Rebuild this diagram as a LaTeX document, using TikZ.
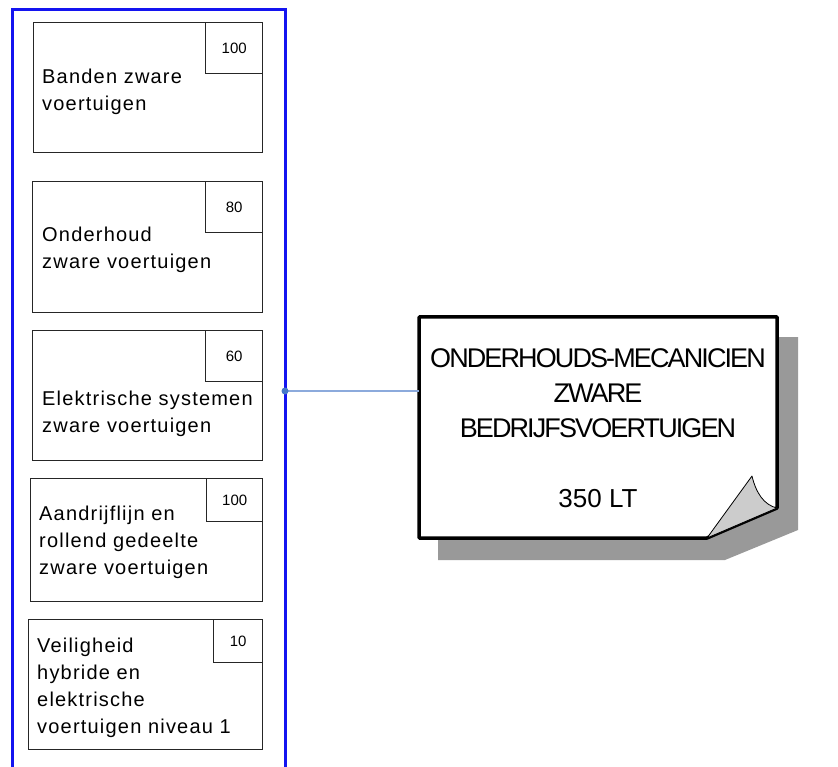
\documentclass[tikz,border=0pt]{standalone}
\usepackage{fontspec}
\setmainfont{Liberation Sans}
\newfontfamily\boxfont[LetterSpace=6]{Liberation Sans}
\newfontfamily\notefont[LetterSpace=-7]{Liberation Sans}
\usetikzlibrary{positioning}
\definecolor{framec}{RGB}{20,20,240}
\definecolor{linkc}{RGB}{140,170,220}
\definecolor{dotc}{RGB}{70,120,200}
\definecolor{shadowc}{RGB}{153,153,153}
\definecolor{flapc}{RGB}{204,204,204}

\begin{document}
\begin{tikzpicture}[x=1pt, y=-1pt,
        unit/.style={draw=black!85, line width=1.2pt, anchor=north west, inner sep=0pt, minimum height=130},
        num/.style={draw=black!85, line width=1pt, anchor=north east, inner sep=0pt, font=\fontsize{15}{18}\selectfont},
        txt/.style={text width=224pt, align=left, inner sep=0pt, anchor=base west, font=\boxfont\fontsize{20}{27}\selectfont}]
        \useasboundingbox (0,0) rectangle (838,767);

        %course boxes
        \node[unit, minimum width=229] (banden) at (33,22) {};
        \node[unit, minimum width=230, minimum height=131] (onderhoud) at (32,181) {};
        \node[unit, minimum width=230] (elektrisch) at (32,330) {};
        \node[unit, minimum width=232, minimum height=123] (aandrijf) at (30,478) {};
        \node[unit, minimum width=234] (veiligheid) at (28,619) {};

        %hours
        \node[num, minimum width=57, minimum height=51] (banden_n) at (banden.north east) {100};
        \node[num, minimum width=57, minimum height=51] (onderhoud_n) at (onderhoud.north east) {80};
        \node[num, minimum width=57, minimum height=51] (elektrisch_n) at (elektrisch.north east) {60};
        \node[num, minimum width=56, minimum height=43] (aandrijf_n) at (aandrijf.north east) {100};
        \node[num, minimum width=49, minimum height=43] (veiligheid_n) at (veiligheid.north east) {10};

        %titles
        \node[txt] (banden_t) at ([shift={(9,62)}]banden.north west) {Banden zware\\voertuigen};
        \node[txt] (onderhoud_t) at ([shift={(10,61)}]onderhoud.north west) {Onderhoud\\zware voertuigen};
        \node[txt] (elektrisch_t) at ([shift={(10,75)}]elektrisch.north west) {Elektrische systemen\\zware voertuigen};
        \node[txt] (aandrijf_t) at ([shift={(9,42)}]aandrijf.north west) {Aandrijflijn en\\rollend gedeelte\\zware voertuigen};
        \node[txt] (veiligheid_t) at ([shift={(9,33)}]veiligheid.north west) {Veiligheid\\hybride en\\elektrische\\voertuigen niveau 1};

        %blue frame round the boxes
        \draw[framec, line width=3pt] (12,800) -- (12,10) -- (285,10) -- (285,800);

        %note with shadow and folded corner
        \fill[shadowc] (438,337) -- (798,337) -- (798,530) -- (725,560) -- (438,560) -- cycle;
        \draw[line width=3.5pt, fill=white, line join=round] (419,317) -- (777,317) -- (777,508) -- (707,538) -- (419,538) -- cycle;
        \draw[fill=flapc, line width=0.8pt, line join=round] (707,538) -- (752,476) .. controls (756,493) and (764,505) .. (777,508) -- cycle;
        \node[align=center, inner sep=0pt, font=\notefont\fontsize{27}{35}\selectfont] (note) at (598,428)
            {ONDERHOUDS-MECANICIEN\\ZWARE\\BEDRIJFSVOERTUIGEN\\[35pt]{\rmfamily\fontsize{26}{35}\selectfont 350 LT}};

        %frame to note
        \coordinate (tap) at (285,391);
        \draw[linkc, line width=1.2pt] (tap) -- (tap -| 419,0);
        \fill[dotc] (tap) circle (3.5);
\end{tikzpicture}
\end{document}
